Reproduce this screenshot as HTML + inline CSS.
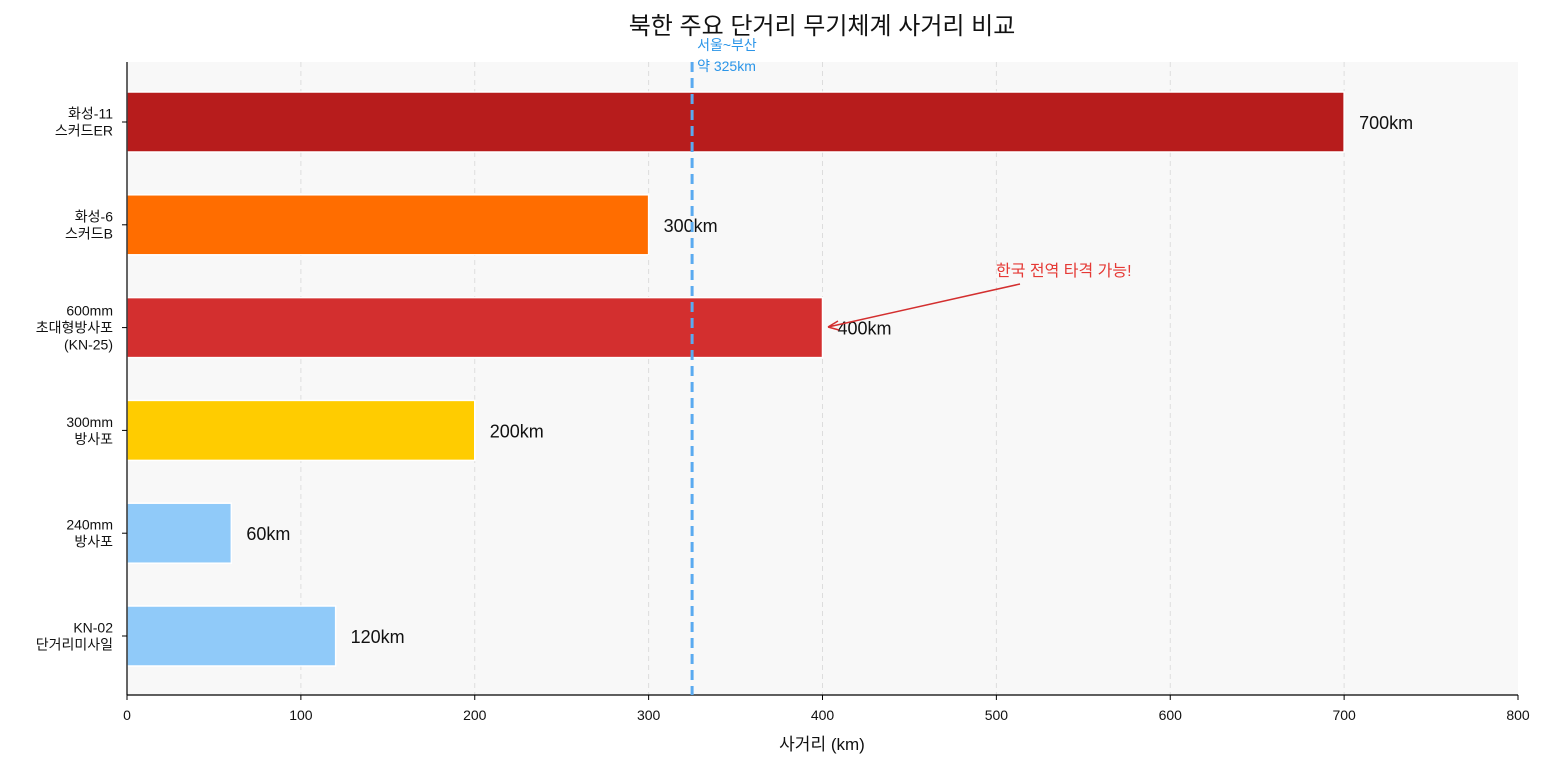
<!DOCTYPE html>
<html><head><meta charset="utf-8"><style>
body{margin:0;background:#fff;font-family:"Liberation Sans","Noto Sans CJK KR",sans-serif}
svg text{font-family:"Liberation Sans","Noto Sans CJK KR",sans-serif}
</style></head><body>
<svg id="c" width="1546" height="766" xmlns="http://www.w3.org/2000/svg">
<text x="822" y="34" font-size="24" text-anchor="middle" fill="#111">북한 주요 단거리 무기체계 사거리 비교</text>
<rect x="127" y="62" width="1391" height="633" fill="#f8f8f8"/>
<g id="grid"></g><g id="bars"></g><g id="ticks"></g>
<line x1="127" y1="62" x2="127" y2="695" stroke="#000" stroke-width="1.2"/>
<line x1="127" y1="695" x2="1518" y2="695" stroke="#000" stroke-width="1.2"/>
<text x="822" y="750" font-size="17" text-anchor="middle" fill="#111">사거리 (km)</text>
</svg>
<script>
const categories=[["화성-11","스커드ER"],["화성-6","스커드B"],["600mm","초대형방사포","(KN-25)"],["300mm","방사포"],["240mm","방사포"],["KN-02","단거리미사일"]];
const ranges=[700,300,400,200,60,120];
const colors=["#b71c1c","#ff6d00","#d32f2f","#ffcc00","#90caf9","#90caf9"];
const xTicks=[0,100,200,300,400,500,600,700,800];
const refLine=325;
const NS="http://www.w3.org/2000/svg";
const x=v=>127+v*(1391/800);
const yc=i=>122+i*102.8;
function mk(tag,attrs,parent,txt){const e=document.createElementNS(NS,tag);for(const k in attrs)e.setAttribute(k,attrs[k]);if(txt!=null)e.textContent=txt;parent.appendChild(e);return e;}
const svg=document.getElementById('c'),grid=document.getElementById('grid'),bars=document.getElementById('bars'),ticks=document.getElementById('ticks');
xTicks.forEach(t=>{
 if(t>0&&t<800){const g=mk('line',{x1:x(t),x2:x(t),y1:62,y2:695,stroke:'#ddd','stroke-dasharray':'5,4'},grid);
 
 }
 mk('line',{x1:x(t),x2:x(t),y1:695,y2:700,stroke:'#000'},ticks);
 const tl=mk('text',{x:x(t),y:720,'font-size':14,'text-anchor':'middle',fill:'#111'},ticks,t);
 
 
});
ranges.forEach((v,i)=>{
 const r=mk('rect',{x:x(0),y:yc(i)-30,width:x(v)-x(0),height:60,fill:colors[i],stroke:'#fff','stroke-width':1.5},bars);
 
 
 const l=mk('text',{x:x(v)+15,y:yc(i)+7,'font-size':18,fill:'#111'},bars,v+'km');
 
 
 mk('line',{x1:122,x2:127,y1:yc(i),y2:yc(i),stroke:'#000'},ticks);
 const lines=categories[i],n=lines.length;
 lines.forEach((s,j)=>{
  const t=mk('text',{x:113,y:yc(i)+5+(j-(n-1)/2)*17,'font-size':14,'text-anchor':'end',fill:'#111'},ticks,s);
  
  
 });
});
const rl=mk('line',{x1:x(refLine),x2:x(refLine),y1:62,y2:695,stroke:'#5aaaf0','stroke-width':3,'stroke-dasharray':'10,6'},svg);


const r1=mk('text',{x:x(refLine)+5,y:50,'font-size':14,fill:'#2b95e8'},svg,'서울~부산');


const r2=mk('text',{x:x(refLine)+5,y:71,'font-size':14,fill:'#2b95e8'},svg,'약 325km');


const an=mk('text',{x:996,y:276,'font-size':16,fill:'#e53935'},svg,'한국 전역 타격 가능!');


const ar=mk('path',{d:'M1020,284 L828,327 M828,327 L838,321 M828,327 L839,330',stroke:'#d32f2f','stroke-width':1.5,fill:'none'},svg);


</script>
</body></html>
